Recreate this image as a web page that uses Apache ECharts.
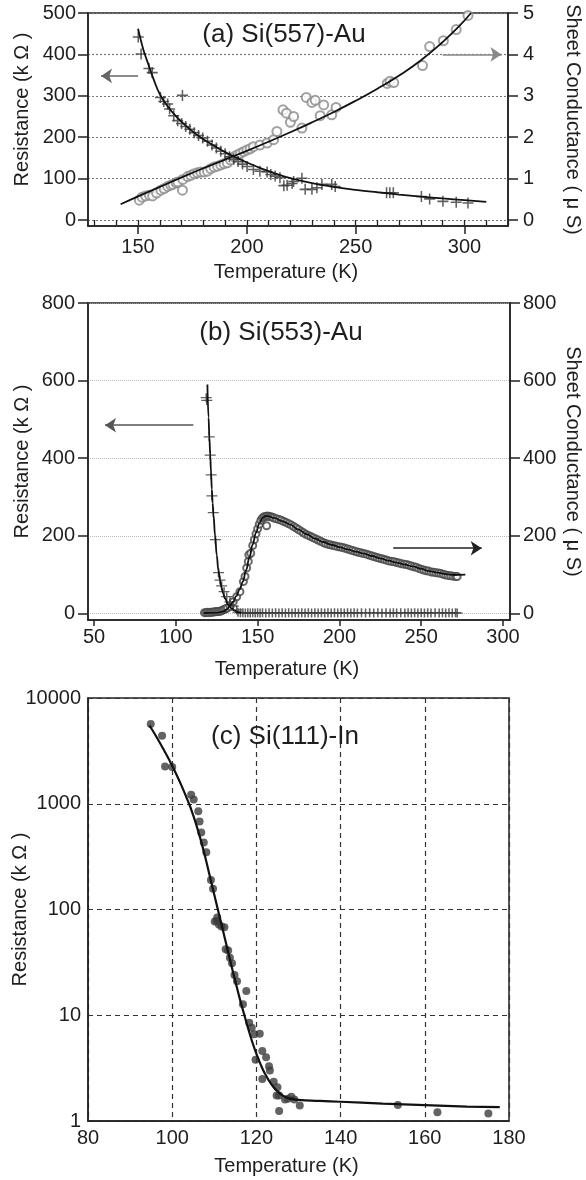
<!DOCTYPE html>
<html><head><meta charset="utf-8">
<script src="https://cdn.jsdelivr.net/npm/echarts@6/dist/echarts.min.js"></script>
<style>html,body{margin:0;padding:0;background:#fff}#c{width:586px;height:1180px}</style>
</head><body><div id="c"></div>
<script>
// ---------------- DATA ----------------
const titles = ['(a) Si(557)-Au', '(b) Si(553)-Au', '(c) Si(111)-In'];
const xName = 'Temperature (K)';
const resName = 'Resistance (k Ω )';
const condName = 'Sheet Conductance ( μ S)';

// tick labels
const aXTicks = [150, 200, 250, 300];
const aXMinorTicks = [130, 140, 150, 160, 170, 180, 190, 200, 210, 220, 230, 240, 250, 260, 270, 280, 290, 300, 310, 320];
const aYLeftTicks = [0, 100, 200, 300, 400, 500];
const aYRightTicks = [0, 1, 2, 3, 4, 5];
const bXTicks = [50, 100, 150, 200, 250, 300];
const bYTicks = [0, 200, 400, 600, 800];

// (a) Si(557)-Au : resistance (kOhm) crosses and fit
const aResPts = [[150.1,442],[151.4,401],[155.0,366],[156.5,356],[160.3,296],[161.8,286],[163.6,280],[164.5,268],[166.4,252],[168.2,240],[170.4,301],[170.0,233],[171.9,226],[173.8,219],[175.8,211],[177.8,204],[179.7,198],[181.9,190],[184.0,181],[186.0,174],[188.0,166],[190.0,160],[192.0,153],[194.0,147],[196.0,141],[198.0,135],[200.1,129],[203.0,122],[206.0,118],[209.3,116],[211.0,110],[213.0,106],[215.2,102],[217.0,83],[218.5,84],[220.8,88],[221.5,93],[225.3,101],[226.8,74],[229.9,74],[232.2,78],[234.5,86],[239.0,86],[240.6,81],[264.2,66],[265.7,66],[267.3,66],[280.2,57],[284.0,51],[290.1,45],[296.2,43],[301.6,41]];
const aResFit = [[150,462],[151,440],[152,420],[153,402],[155,372],[157,342],[160,304],[163,279],[166,259],[170,237],[175,214],[180,195],[185,179],[190,164],[195,151],[200,139],[205,128],[210,118],[215,109],[220,101],[230,89],[240,80],[250,73],[260,67],[270,61.5],[280,56.5],[290,52],[300,48],[310,44]];
// (a) sheet conductance (uS) circles and fit
const aCondPts = [[150.6,0.48],[151.8,0.55],[153.5,0.58],[155.2,0.60],[156.7,0.58],[158.5,0.65],[160.5,0.72],[162.0,0.76],[163.6,0.81],[165.0,0.84],[166.0,0.86],[167.5,0.90],[168.3,0.92],[170.6,0.98],[170.4,0.72],[172.8,1.05],[174.3,1.08],[175.8,1.12],[177.3,1.14],[178.8,1.16],[180.4,1.16],[181.9,1.18],[183.4,1.24],[184.9,1.28],[186.5,1.30],[188.0,1.33],[189.5,1.36],[191.0,1.38],[192.5,1.45],[194.0,1.53],[195.6,1.57],[197.0,1.61],[198.5,1.65],[200.0,1.69],[201.5,1.72],[203.0,1.77],[206.0,1.81],[209.3,1.86],[212.3,1.94],[213.8,2.14],[216.6,2.66],[218.2,2.58],[220.0,2.36],[221.5,2.50],[225.3,2.22],[227.3,2.96],[229.9,2.84],[231.4,2.89],[233.7,2.52],[235.3,2.78],[239.0,2.54],[241.0,2.72],[264.5,3.30],[265.8,3.35],[267.5,3.32],[280.7,3.73],[284.0,4.19],[290.3,4.33],[296.2,4.60],[301.6,4.94]];
const aCondFit = [[142,0.38],[150,0.57],[160,0.80],[170,1.03],[180,1.25],[190,1.46],[200,1.67],[210,1.89],[220,2.12],[230,2.36],[240,2.61],[250,2.88],[260,3.17],[270,3.49],[280,3.86],[290,4.30],[297,4.65],[303,5.0]];
const aArrowRes = [[150, 348], [133, 348]];
const aArrowCond = [[290, 4.0], [317, 4.0]];

// (b) Si(553)-Au
const bResPts = [[118.6,556],[118.9,549],[120.4,455],[121.0,408],[121.6,357],[122.1,303],[122.9,260],[124.2,190],[126.1,105],[127.0,86],[128.0,71],[129.5,56],[131.1,43],[133.1,30],[135.1,19],[137.2,9],
  [138,3],[139.5,2],[141,2],[142.5,1],[144,2],[145.5,1],[147,2],[148.5,1],[150,2],[151.5,1],[153,2],[155,1],[157,2],[159,1],[161,2],[163,1],[165,2],[167,1],[169,2],[171,1],[173,2],[175,1],[177,2],[179,1],[181,2],[183,1],[185,2],[187,1],[189,2],[191,1],[193,2],[195,1],[197,2],[199,1],[201,2],[203,1],[205,2],[207,1],[209,2],[211,1],[213.5,2],[216,1],[218.5,2],[221,1],[223.5,2],[226,1],[228.5,2],[231,1],[233,2],[235,1],[237.5,2],[240,1],[242,2],[244,1],[246,2],[248,1],[250,2],[252,1],[254,2],[256,1],[258.5,2],[261,1],[263,2],[265,1],[267,2],[269,1],[271,2],[272,1]];
const bResFit = [[119.3,590],[120,505],[120.5,455],[121,410],[121.5,365],[122,320],[122.5,284],[123,255],[124,200],[125,150],[126,112],[127,86],[128,66],[129,51],[130,39],[132,23],[134,13],[136,7],[138,3],[140,1]];
const bCondPts = [[117.5,2],[118.5,2],[119.5,3],[120.5,2],[121.5,3],[122.5,3],[123.5,4],[124.5,4],[125.5,5],[126.5,5],[127.5,6],[128.5,8],[129.5,10],[130.5,12],[131.5,14],[133.1,18],[135.1,30],[137.2,43],[139.2,56],[141.3,82],[142.3,95],[143.3,117],[144.3,134],[144.6,151],[145.8,155],[147,175],[148,190],[149,205],
  [150,218],[151,230],[152,240],[153,246],[154,249],[155,250],[155.5,226],[156,251],[157,250],[158,249],[159,248],[160,246],[161.5,244],[163,242],[164.5,240],[166,237],[167.5,234],[169,231],[170.5,228],[172,224],[173.5,220],[175,216],[176.5,212],[178,208],[179.5,204],[181,201],[182.5,198],[184,195],[185.5,192],[187,189],[188.5,186],[190,183],[191.5,180],[193,178],[194.5,177],[196,175],[197.5,174],[199,172],[200.5,171],[202,170],[203.5,168],[205,166],[206.5,164],[208,162],[209.5,160],[211,158],[212.5,157],[214,155],[215.5,154],[217,152],[218.5,150],[220,148],[221.5,146],[223,144],[224.5,142],[226,141],[227.5,139],[229,137],[230.5,135],[232,134],[233.5,133],[235,131],[236.5,130],[238,128],[239.5,127],[241,126],[242.5,124],[244,122],[245.5,120],[247,119],[248.5,116],[250,114],[251.5,112],[253,110],[254.5,109],[256,107],[257.5,106],[259,105],[260.5,104],[262,103],[263.5,101],[265,99],[266.5,98],[268,97],[269.5,96],[271,95],[272,95]];
const bCondFit = [[117,1],[125,2],[129,5],[131,10],[133,18],[135,30],[137,45],[139,62],[141,82],[143,112],[145,145],[147,178],[149,208],[151,232],[153,246],[155,251],[157,250],[160,246],[165,238],[170,229],[175,216],[180,204],[185,193],[190,184],[195,177],[200,171],[205,165],[210,159],[215,154],[220,148],[225,142],[230,136],[235,131],[240,126],[245,121],[250,115],[255,109],[260,105],[265,101],[270,99],[277,100]];
const bArrowRes = [[110.7, 485], [56.7, 485]];
const bArrowCond = [[232.9, 168], [287, 168]];

// (c) Si(111)-In : resistance (kOhm), log scale
const cResPts = [[94.9,5690],[97.6,4400],[98.3,2250],[100,2220],[104.5,1216],[105.1,1096],[106.2,850],[106.5,680],[106.9,535],[107.5,430],[108.1,347],[109.2,190],[109.7,157],[110.7,84],[110.1,77],[110.6,78],[111.1,72],[111.7,69],[112.4,68],[112.7,42],[113.3,41],[113.7,35],[114.2,31],[114.8,24],[115.4,21],[117.6,17],[116.8,12.7],[118.3,8.5],[118.9,7.6],[119.5,6.6],[120.8,6.7],[119.8,3.8],[121.4,4.6],[122.3,4.0],[123.0,3.3],[123.2,3.0],[121.4,2.5],[124.1,2.35],[125.0,2.08],[125.4,1.74],[124.8,1.74],[126.8,1.6],[127.5,1.62],[128.3,1.7],[129.0,1.6],[130.3,1.40],[125.4,1.24],[153.6,1.42],[163.0,1.21],[175.1,1.18]];
const cResFit = [[94.6,5495],[96,4467],[98,3236],[100,2291],[102,1549],[104,1000],[105,776],[106,582],[107,422],[108,295],[109,202],[110,138],[111,94.4],[112,64.6],[113,44.2],[114,30.2],[115,20.9],[116,14.6],[117,10.5],[118,7.59],[119,5.62],[120,4.32],[121,3.43],[122,2.82],[123,2.40],[124,2.11],[125,1.91],[126,1.77],[127,1.68],[128,1.63],[130,1.585],[135,1.55],[140,1.52],[150,1.46],[160,1.41],[170,1.37],[177.8,1.35]];

// ---------------- CHART ----------------
const FONT = "'Liberation Sans', Arial, sans-serif";
const TXT = '#1e1e1e';
const PLUS = 'path://M8.6,0h2.8v8.6h8.6v2.8h-8.6v8.6h-2.8v-8.6h-8.6v-2.8h8.6z';
const lbl = (extra) => Object.assign({fontFamily: FONT, fontSize: 20, color: TXT}, extra || {});
const axLine = {show: true, onZero: false, lineStyle: {color: '#222', width: 1.5}};
const gridBase = {show: true, borderColor: '#222', borderWidth: 1.5, backgroundColor: 'transparent', containLabel: false, outerBoundsMode: 'none'};

function arrowLine(pts, color) {
  return {
    silent: true, symbol: ['none', 'arrow'], symbolSize: 11,
    label: {show: false}, emphasis: {disabled: true},
    lineStyle: {color: color, width: 1.5, type: 'solid'},
    data: [[{coord: pts[0]}, {coord: pts[1]}]]
  };
}

const option = {
  animation: false,
  backgroundColor: '#fff',
  textStyle: {fontFamily: FONT},
  grid: [
    Object.assign({left: 88, top: 13, width: 420, height: 213}, gridBase),
    Object.assign({left: 88, top: 303, width: 422, height: 317}, gridBase),
    Object.assign({left: 88, top: 698, width: 421, height: 423}, gridBase)
  ],
  xAxis: [
    {gridIndex: 0, type: 'value', position: 'bottom', min: 127, max: 320,
      axisLine: axLine, axisTick: {show: true, customValues: aXTicks, length: 8, lineStyle: {color: '#222', width: 1.5}},
      axisLabel: lbl({customValues: aXTicks, margin: 11}), splitLine: {show: false},
      name: xName, nameLocation: 'middle', nameGap: 36, nameMoveOverlap: false, nameTextStyle: lbl({padding: [0, 24, 0, 0]})},
    {gridIndex: 0, type: 'value', position: 'bottom', min: 127, max: 320,
      axisLine: {show: false}, axisTick: {show: true, customValues: aXMinorTicks, length: 5, lineStyle: {color: '#222', width: 1.3}},
      axisLabel: {show: false}, splitLine: {show: false}},
    {gridIndex: 1, type: 'value', position: 'bottom', min: 46.3, max: 304.3,
      axisLine: axLine, axisTick: {show: true, customValues: bXTicks, length: 6, lineStyle: {color: '#222', width: 1.5}},
      axisLabel: lbl({customValues: bXTicks, margin: 7}), splitLine: {show: false},
      name: xName, nameLocation: 'middle', nameGap: 39, nameMoveOverlap: false, nameTextStyle: lbl({padding: [0, 24, 0, 0]})},
    {gridIndex: 2, type: 'value', position: 'bottom', min: 80, max: 180, interval: 20,
      axisLine: axLine, axisTick: {show: false},
      axisLabel: lbl({margin: 7}),
      splitLine: {show: true, lineStyle: {color: '#333', width: 1.2, type: [5, 4]}},
      name: xName, nameLocation: 'middle', nameGap: 35, nameMoveOverlap: false, nameTextStyle: lbl({padding: [0, 24, 0, 0]})}
  ],
  yAxis: [
    {gridIndex: 0, type: 'value', position: 'left', min: -14.5, max: 500,
      axisLine: axLine, axisTick: {show: true, customValues: aYLeftTicks, length: 10, lineStyle: {color: '#222', width: 1.5}},
      axisLabel: lbl({customValues: aYLeftTicks, margin: 12}),
      splitLine: {show: true, lineStyle: {color: '#777', width: 1.2, type: [2, 2]}},
      name: resName, nameLocation: 'middle', nameGap: 56, nameMoveOverlap: false, nameTextStyle: lbl({padding: [0, 0, 0, 20]})},
    {gridIndex: 0, type: 'value', position: 'right', min: -0.145, max: 5,
      axisLine: axLine, axisTick: {show: true, customValues: aYRightTicks, length: 10, lineStyle: {color: '#222', width: 1.5}},
      axisLabel: lbl({customValues: aYRightTicks, margin: 15}), splitLine: {show: false},
      name: condName, nameLocation: 'middle', nameRotate: -90, nameGap: 55, nameMoveOverlap: false, nameTextStyle: lbl()},
    {gridIndex: 1, type: 'value', position: 'left', min: -17, max: 800,
      axisLine: axLine, axisTick: {show: true, customValues: bYTicks, length: 10, lineStyle: {color: '#222', width: 1.5}},
      axisLabel: lbl({customValues: bYTicks, margin: 13}),
      splitLine: {show: true, lineStyle: {color: '#aaa', width: 0.8, type: [1, 1]}},
      name: resName, nameLocation: 'middle', nameGap: 56, nameMoveOverlap: false, nameTextStyle: lbl()},
    {gridIndex: 1, type: 'value', position: 'right', min: -17, max: 800,
      axisLine: axLine, axisTick: {show: true, customValues: bYTicks, length: 10, lineStyle: {color: '#222', width: 1.5}},
      axisLabel: lbl({customValues: bYTicks, margin: 13}), splitLine: {show: false},
      name: condName, nameLocation: 'middle', nameRotate: -90, nameGap: 53, nameMoveOverlap: false, nameTextStyle: lbl()},
    {gridIndex: 2, type: 'log', logBase: 10, position: 'left', min: 1, max: 10000,
      axisLine: axLine, axisTick: {show: false},
      axisLabel: lbl({margin: 7, formatter: (v) => String(Math.round(v))}),
      splitLine: {show: true, lineStyle: {color: '#333', width: 1.2, type: [5, 4]}},
      name: resName, nameLocation: 'middle', nameGap: 58, nameMoveOverlap: false, nameTextStyle: lbl()}
  ],
  graphic: [
    {type: 'text', x: 284, y: 35, z: 100, style: {text: titles[0], font: '26px ' + FONT, fill: TXT, textAlign: 'center', textVerticalAlign: 'middle'}},
    {type: 'text', x: 281, y: 333, z: 100, style: {text: titles[1], font: '26px ' + FONT, fill: TXT, textAlign: 'center', textVerticalAlign: 'middle'}},
    {type: 'text', x: 285, y: 737, z: 100, style: {text: titles[2], font: '26px ' + FONT, fill: TXT, textAlign: 'center', textVerticalAlign: 'middle'}}
  ],
  series: [
    // (a)
    {type: 'scatter', xAxisIndex: 0, yAxisIndex: 1, data: aCondPts, symbol: 'emptyCircle', symbolSize: 9,
      itemStyle: {color: '#8a8a8a', borderWidth: 1.1}, z: 2},
    {type: 'scatter', xAxisIndex: 0, yAxisIndex: 0, data: aResPts, symbol: PLUS, symbolSize: 11,
      itemStyle: {color: '#383838'}, z: 3},
    {type: 'line', xAxisIndex: 0, yAxisIndex: 0, data: aResFit, showSymbol: false, symbol: 'none', smooth: 0.5,
      lineStyle: {color: '#111', width: 1.8}, z: 4, markLine: arrowLine(aArrowRes, '#666')},
    {type: 'line', xAxisIndex: 0, yAxisIndex: 1, data: aCondFit, showSymbol: false, symbol: 'none', smooth: 0.5,
      lineStyle: {color: '#111', width: 1.8}, z: 4, markLine: arrowLine(aArrowCond, '#888')},
    // (b)
    {type: 'scatter', xAxisIndex: 2, yAxisIndex: 3, data: bCondPts, symbol: 'emptyCircle', symbolSize: 7,
      itemStyle: {color: '#444', borderWidth: 1}, z: 2},
    {type: 'scatter', xAxisIndex: 2, yAxisIndex: 2, data: bResPts, symbol: PLUS, symbolSize: [11, 9],
      itemStyle: {color: '#3a3a3a'}, z: 3},
    {type: 'line', xAxisIndex: 2, yAxisIndex: 2, data: bResFit, showSymbol: false, symbol: 'none', smooth: 0.4, smoothMonotone: 'x',
      lineStyle: {color: '#111', width: 1.8}, z: 4, markLine: arrowLine(bArrowRes, '#555')},
    {type: 'line', xAxisIndex: 2, yAxisIndex: 3, data: bCondFit, showSymbol: false, symbol: 'none', smooth: 0.4, smoothMonotone: 'x',
      lineStyle: {color: '#111', width: 1.8}, z: 4, markLine: arrowLine(bArrowCond, '#222')},
    // (c)
    {type: 'scatter', xAxisIndex: 3, yAxisIndex: 4, data: cResPts, symbol: 'circle', symbolSize: 8,
      itemStyle: {color: '#3c3c3c'}, z: 2},
    {type: 'line', xAxisIndex: 3, yAxisIndex: 4, data: cResFit, showSymbol: false, symbol: 'none', smooth: 0.5,
      lineStyle: {color: '#111', width: 2.2}, z: 4}
  ]
};

const chart = echarts.init(document.getElementById('c'), null, {renderer: 'canvas'});
chart.setOption(option);
</script>
</body></html>
